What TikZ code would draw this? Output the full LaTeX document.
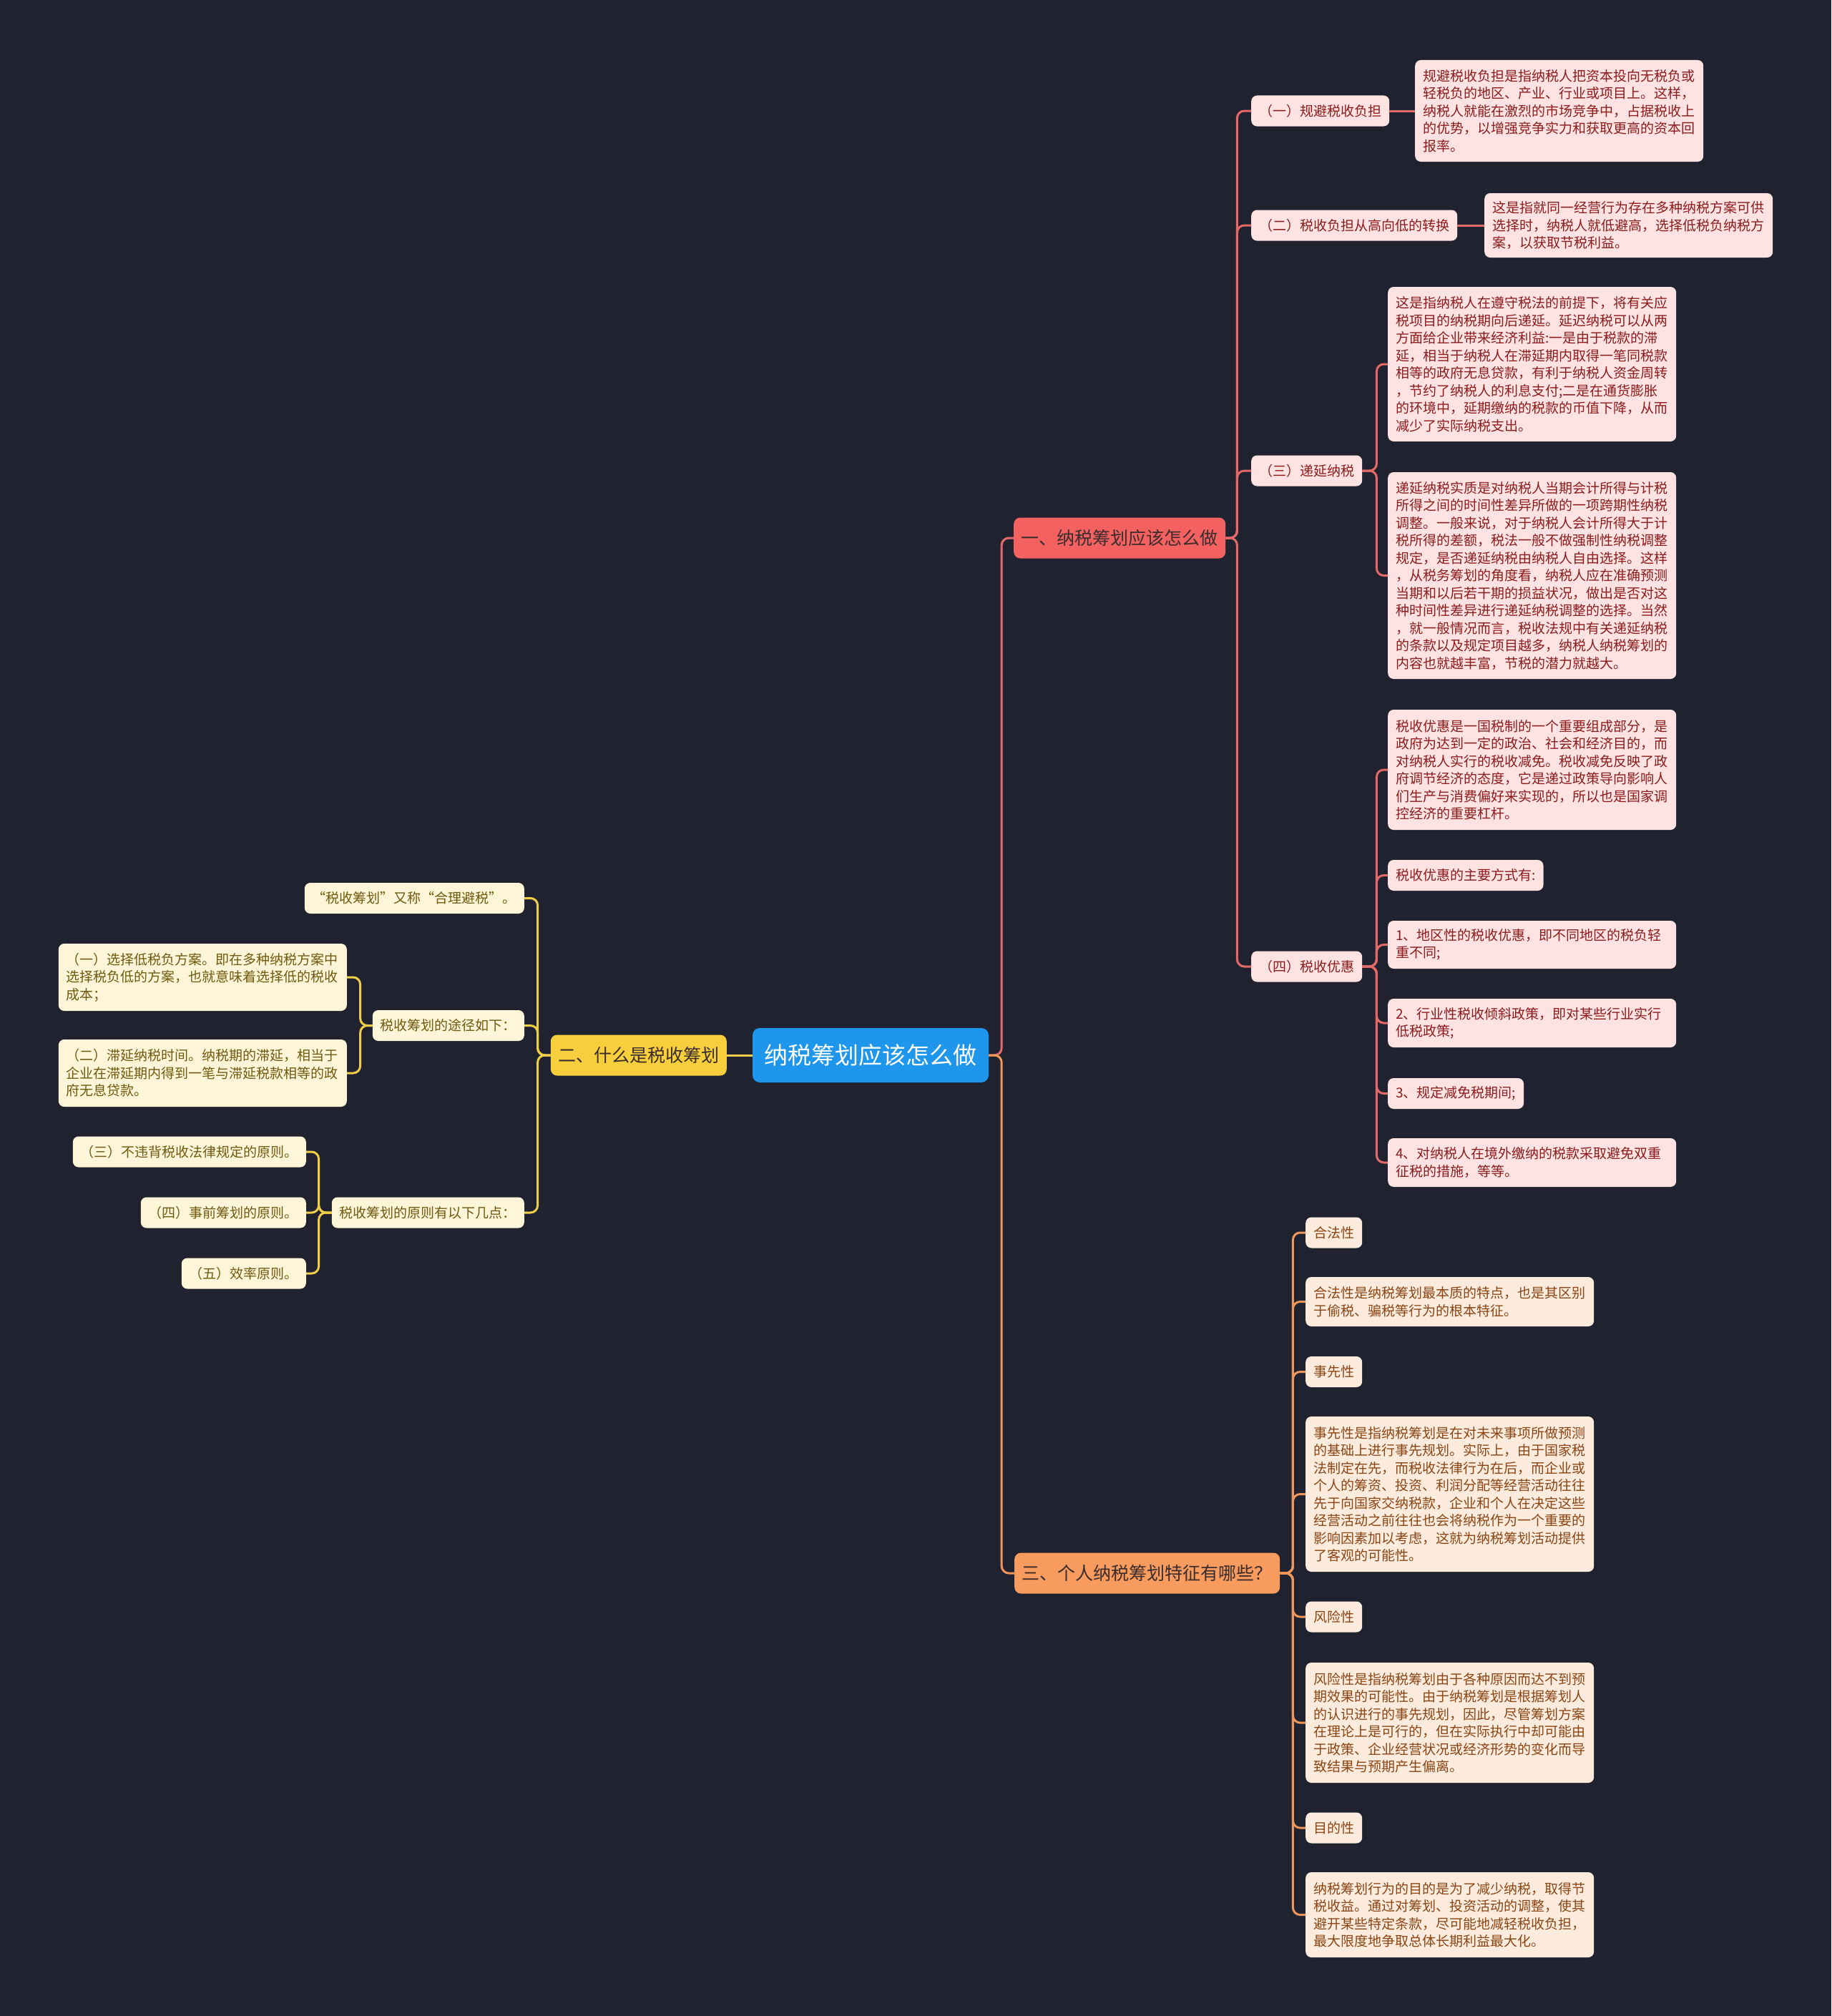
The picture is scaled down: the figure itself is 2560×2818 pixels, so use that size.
\documentclass[tikz,border=0pt]{standalone}
\usepackage{fontspec}
\setmainfont{Noto Sans CJK SC}
\definecolor{bg}{HTML}{20232F}
\definecolor{rootc}{HTML}{1E96EC}
\definecolor{bonef}{HTML}{F46161}
\definecolor{btwof}{HTML}{F7CF3D}
\definecolor{bthreef}{HTML}{F79B5E}
\definecolor{brtext}{HTML}{3A2C2C}
\definecolor{lone}{HTML}{E46A6A}
\definecolor{ltwo}{HTML}{F2CE48}
\definecolor{lthree}{HTML}{F0965A}
\definecolor{pinkf}{HTML}{FFE2E2}
\definecolor{pinkt}{HTML}{8B1C1C}
\definecolor{creamf}{HTML}{FFF5D8}
\definecolor{creamt}{HTML}{6E5A0E}
\definecolor{peachf}{HTML}{FDEBDD}
\definecolor{peacht}{HTML}{8A4513}
\tikzset{
  rootbox/.style={fill=rootc, text=white, font=\fontsize{33}{40}\selectfont, inner xsep=16pt, inner ysep=0pt, minimum height=76pt, minimum width=330pt, rounded corners=10pt},
  brbox/.style={font=\fontsize{25}{30}\selectfont, text=brtext, inner xsep=10.5pt, inner ysep=0pt, minimum height=57pt, rounded corners=9pt},
  leaf/.style={font=\fontsize{19}{24.5}\selectfont, inner xsep=11pt, inner ysep=0pt, minimum height=43pt, rounded corners=8pt, align=left},
  wide/.style={text width=381pt},
  pinkbox/.style={leaf, fill=pinkf, text=pinkt},
  creambox/.style={leaf, fill=creamf, text=creamt},
  peachbox/.style={leaf, fill=peachf, text=peacht},
  lnone/.style={draw=lone, line width=3pt, rounded corners=10pt},
  lntwo/.style={draw=ltwo, line width=3pt, rounded corners=10pt},
  lnthree/.style={draw=lthree, line width=3pt, rounded corners=10pt},
}
\begin{document}
\begin{tikzpicture}[x=1pt, y=-1pt]
\fill[bg] (0,0) rectangle (2560,2818);
\useasboundingbox (0,0) rectangle (2560,2818);

% root
\node[rootbox] (root) at (1217,1475) {纳税筹划应该怎么做};

% branches
\node[brbox, fill=bonef, anchor=west] (b1) at (1417,752) {一、纳税筹划应该怎么做};
\node[brbox, fill=btwof, anchor=east] (b2) at (1016,1475) {二、什么是税收筹划};
\node[brbox, fill=bthreef, anchor=west] (b3) at (1418,2199) {三、个人纳税筹划特征有哪些？};

% branch one
\node[pinkbox, anchor=west] (a1) at (1749,155) {（一）规避税收负担};
\node[pinkbox, wide, anchor=west, minimum height=142pt] (a1d) at (1978,155) {规避税收负担是指纳税人把资本投向无税负或\\轻税负的地区、产业、行业或项目上。这样，\\纳税人就能在激烈的市场竞争中，占据税收上\\的优势，以增强竞争实力和获取更高的资本回\\报率。};
\node[pinkbox, anchor=west] (a2) at (1749,315) {（二）税收负担从高向低的转换};
\node[pinkbox, wide, anchor=west, minimum height=90pt] (a2d) at (2075,315) {这是指就同一经营行为存在多种纳税方案可供\\选择时，纳税人就低避高，选择低税负纳税方\\案，以获取节税利益。};
\node[pinkbox, anchor=west] (a3) at (1749,658) {（三）递延纳税};
\node[pinkbox, wide, anchor=west, minimum height=216pt] (a3p) at (1940,509) {这是指纳税人在遵守税法的前提下，将有关应\\税项目的纳税期向后递延。延迟纳税可以从两\\方面给企业带来经济利益:一是由于税款的滞\\延，相当于纳税人在滞延期内取得一笔同税款\\相等的政府无息贷款，有利于纳税人资金周转\\，节约了纳税人的利息支付;二是在通货膨胀\\的环境中，延期缴纳的税款的币值下降，从而\\减少了实际纳税支出。};
\node[pinkbox, wide, anchor=west, minimum height=289pt] (a3q) at (1940,804.5) {递延纳税实质是对纳税人当期会计所得与计税\\所得之间的时间性差异所做的一项跨期性纳税\\调整。一般来说，对于纳税人会计所得大于计\\税所得的差额，税法一般不做强制性纳税调整\\规定，是否递延纳税由纳税人自由选择。这样\\，从税务筹划的角度看，纳税人应在准确预测\\当期和以后若干期的损益状况，做出是否对这\\种时间性差异进行递延纳税调整的选择。当然\\，就一般情况而言，税收法规中有关递延纳税\\的条款以及规定项目越多，纳税人纳税筹划的\\内容也就越丰富，节税的潜力就越大。};
\node[pinkbox, anchor=west] (a4) at (1749,1351) {（四）税收优惠};
\node[pinkbox, wide, anchor=west, minimum height=168pt] (a4a) at (1940,1076) {税收优惠是一国税制的一个重要组成部分，是\\政府为达到一定的政治、社会和经济目的，而\\对纳税人实行的税收减免。税收减免反映了政\\府调节经济的态度，它是递过政策导向影响人\\们生产与消费偏好来实现的，所以也是国家调\\控经济的重要杠杆。};
\node[pinkbox, anchor=west] (a4b) at (1940,1223.5) {税收优惠的主要方式有:};
\node[pinkbox, wide, anchor=west, minimum height=67pt] (a4c) at (1940,1320.5) {1、地区性的税收优惠，即不同地区的税负轻\\重不同;};
\node[pinkbox, wide, anchor=west, minimum height=68pt] (a4d) at (1940,1430) {2、行业性税收倾斜政策，即对某些行业实行\\低税政策;};
\node[pinkbox, anchor=west] (a4e) at (1940,1528.5) {3、规定减免税期间;};
\node[pinkbox, wide, anchor=west, minimum height=68pt] (a4f) at (1940,1625) {4、对纳税人在境外缴纳的税款采取避免双重\\征税的措施，等等。};

% branch three
\node[peachbox, anchor=west] (c1) at (1825,1723) {合法性};
\node[peachbox, wide, anchor=west, minimum height=69pt] (c2) at (1825,1819.5) {合法性是纳税筹划最本质的特点，也是其区别\\于偷税、骗税等行为的根本特征。};
\node[peachbox, anchor=west] (c3) at (1825,1917.5) {事先性};
\node[peachbox, wide, anchor=west, minimum height=217pt] (c4) at (1825,2088.5) {事先性是指纳税筹划是在对未来事项所做预测\\的基础上进行事先规划。实际上，由于国家税\\法制定在先，而税收法律行为在后，而企业或\\个人的筹资、投资、利润分配等经营活动往往\\先于向国家交纳税款，企业和个人在决定这些\\经营活动之前往往也会将纳税作为一个重要的\\影响因素加以考虑，这就为纳税筹划活动提供\\了客观的可能性。};
\node[peachbox, anchor=west] (c5) at (1825,2260) {风险性};
\node[peachbox, wide, anchor=west, minimum height=168pt] (c6) at (1825,2408) {风险性是指纳税筹划由于各种原因而达不到预\\期效果的可能性。由于纳税筹划是根据筹划人\\的认识进行的事先规划，因此，尽管筹划方案\\在理论上是可行的，但在实际执行中却可能由\\于政策、企业经营状况或经济形势的变化而导\\致结果与预期产生偏离。};
\node[peachbox, anchor=west] (c7) at (1825,2555) {目的性};
\node[peachbox, wide, anchor=west, minimum height=119pt] (c8) at (1825,2676.5) {纳税筹划行为的目的是为了减少纳税，取得节\\税收益。通过对筹划、投资活动的调整，使其\\避开某些特定条款，尽可能地减轻税收负担，\\最大限度地争取总体长期利益最大化。};

% branch two
\node[creambox, anchor=east, minimum width=307pt, align=center] (d1) at (733,1255.5) {“税收筹划”又称“合理避税”。};
\node[creambox, anchor=east] (d2) at (733,1433.5) {税收筹划的途径如下：};
\node[creambox, wide, anchor=east, minimum height=94pt] (d2a) at (485,1366) {（一）选择低税负方案。即在多种纳税方案中\\选择税负低的方案，也就意味着选择低的税收\\成本；};
\node[creambox, wide, anchor=east, minimum height=94pt] (d2b) at (485,1500) {（二）滞延纳税时间。纳税期的滞延，相当于\\企业在滞延期内得到一笔与滞延税款相等的政\\府无息贷款。};
\node[creambox, anchor=east] (d3) at (733,1695) {税收筹划的原则有以下几点：};
\node[creambox, anchor=east] (d3a) at (428,1610) {（三）不违背税收法律规定的原则。};
\node[creambox, anchor=east] (d3b) at (428,1695) {（四）事前筹划的原则。};
\node[creambox, anchor=east] (d3c) at (428,1780) {（五）效率原则。};

% connectors root
\draw[lnone] (root.east) -- ++(18,0) |- (b1.west);
\draw[lnthree] (root.east) -- ++(18,0) |- (b3.west);
\draw[lntwo] (root.west) -- (b2.east);

% branch one connectors
\foreach \n in {a1,a2,a3,a4} \draw[lnone] (b1.east) -- ++(16,0) |- (\n.west);
\draw[lnone] (a1.east) -- (a1d.west);
\draw[lnone] (a2.east) -- (a2d.west);
\foreach \n in {a3p,a3q} \draw[lnone] (a3.east) -- ++(20,0) |- (\n.west);
\foreach \n in {a4a,a4b,a4c,a4d,a4e,a4f} \draw[lnone] (a4.east) -- ++(20,0) |- (\n.west);

% branch three connectors
\foreach \n in {c1,c2,c3,c4,c5,c6,c7,c8} \draw[lnthree] (b3.east) -- ++(18,0) |- (\n.west);

% branch two connectors
\foreach \n in {d1,d2,d3} \draw[lntwo] (b2.west) -- ++(-18,0) |- (\n.east);
\foreach \n in {d2a,d2b} \draw[lntwo] (d2.west) -- ++(-17,0) |- (\n.east);
\foreach \n in {d3a,d3b,d3c} \draw[lntwo] (d3.west) -- ++(-18,0) |- (\n.east);
\end{tikzpicture}
\end{document}
